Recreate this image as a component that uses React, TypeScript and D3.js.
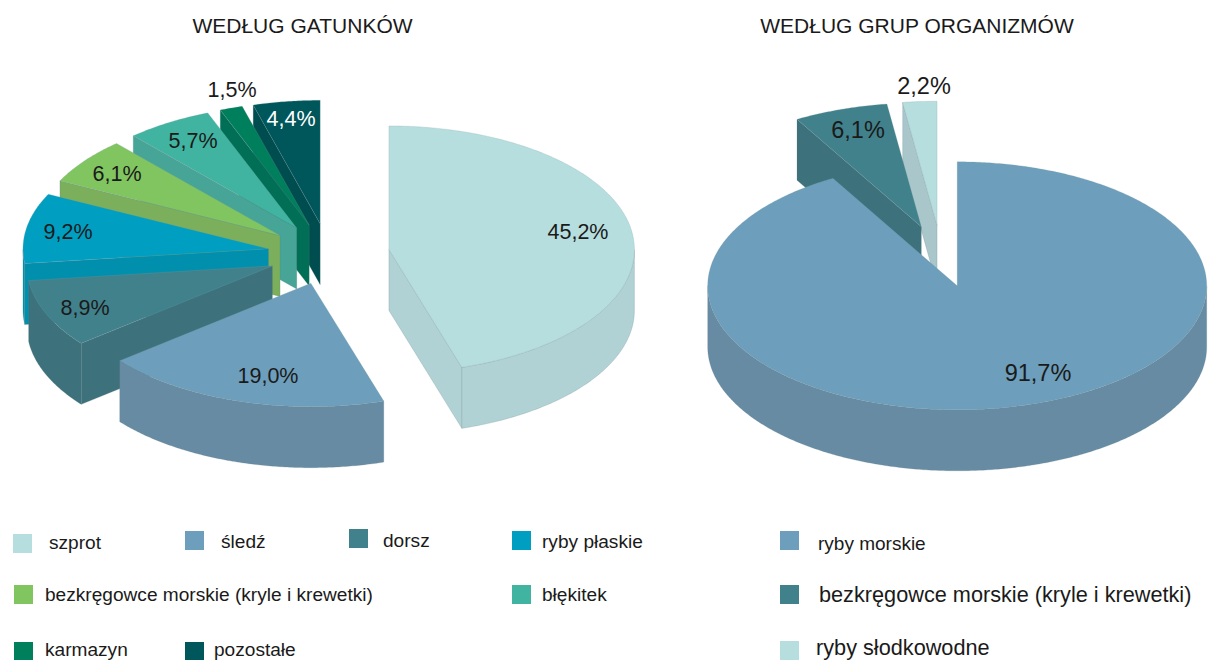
import React from "react";
import * as d3 from "d3";

const FONT = "'Liberation Sans', Arial, sans-serif";

const speciesNames = ["szprot", "śledź", "dorsz", "ryby płaskie", "bezkręgowce morskie (kryle i krewetki)", "błękitek", "karmazyn", "pozostałe"];
const speciesValues = [45.2, 19.0, 8.9, 9.2, 6.1, 5.7, 1.5, 4.4];
const speciesTop = ["#B6DEDE", "#6D9EBB", "#41818B", "#009FC2", "#81C561", "#41B4A1", "#007F5D", "#00575B"];
const speciesWall = ["#B1D2D4", "#668BA3", "#3D717C", "#0090AD", "#7BAF5B", "#46A596", "#006F55", "#004D50"];
const speciesLabelColor = ["#1a1a1a", "#1a1a1a", "#1a1a1a", "#1a1a1a", "#1a1a1a", "#1a1a1a", "#1a1a1a", "#ffffff"];
const speciesLabelAt = [[578, 232], [268, 376], [85, 308], [68, 232], [117, 174], [193, 141], [232, 90], [291, 119]];
const speciesLegend = [[13, 534, 49, 549], [185, 531, 221, 548], [349, 529, 383, 547], [512, 531, 542, 548], [14, 585, 45, 601], [512, 585, 542, 601], [14, 642, 45, 656], [185, 642, 214, 656]];
const speciesLegendSizes = [19.1, 19.1, 19.1, 19.1, 19.1, 19.1, 19.1, 19.1];

const groupNames = ["ryby morskie", "bezkręgowce morskie (kryle i krewetki)", "ryby słodkowodne"];
const groupValues = [91.7, 6.1, 2.2];
const groupTop = ["#6D9EBB", "#41818B", "#B6DEDE"];
const groupWall = ["#668BA3", "#3D717C", "#A9C6CB"];
const groupLabelColor = ["#1a1a1a", "#1a1a1a", "#1a1a1a"];
const groupLabelAt = [[1038, 373], [858, 130], [924, 86]];
const groupLegend = [[780, 531, 818, 550], [780, 585, 819, 602], [780, 641, 816, 655]];
const groupLegendSizes = [19, 21.7, 21.7];

const TAU = Math.PI * 2;

type PieSpec = {
  values: number[]; top: string[]; wall: string[]; labelColor: string[]; labelAt: number[][];
  cx: number; cy: number; rx: number; ry: number; depth: number; explode: number; labelSize: number;
};

const line = d3.line<[number, number]>();

function Pie3D({ values, top, wall, labelColor, labelAt, cx, cy, rx, ry, depth, explode, labelSize }: PieSpec) {
  const arcs = d3.pie<number>().sort(null).startAngle(0).endAngle(TAU)(values);
  const pts = (x: number, y: number, a0: number, a1: number): [number, number][] => {
    const n = Math.max(2, Math.ceil(Math.abs(a1 - a0) / 0.01));
    return d3.range(n + 1).map((i) => {
      const a = a0 + ((a1 - a0) * i) / n;
      return [x + rx * Math.sin(a), y - ry * Math.cos(a)] as [number, number];
    });
  };
  const slices = arcs.map((d, i) => {
    const mid = (d.startAngle + d.endAngle) / 2;
    const x = cx + explode * Math.sin(mid);
    const y = cy - explode * 0.5 * Math.cos(mid);
    const rim = pts(x, y, d.startAngle, d.endAngle);
    const topPath = line([[x, y], ...rim]) + "Z";
    const walls: string[] = [];
    const radial = (a: number) => {
      const [p] = pts(x, y, a, a);
      return line([[x, y], p, [p[0], p[1] + depth], [x, y + depth]]) + "Z";
    };
    if (d.startAngle > Math.PI) walls.push(radial(d.startAngle));
    if (d.endAngle < Math.PI) walls.push(radial(d.endAngle));
    const lo = Math.max(d.startAngle, Math.PI / 2);
    const hi = Math.min(d.endAngle, (3 * Math.PI) / 2);
    if (hi > lo) {
      const r = pts(x, y, lo, hi);
      const low = r.map(([a, b]) => [a, b + depth] as [number, number]).reverse();
      walls.push(line([...r, ...low]) + "Z");
    }
    return { i, topPath, walls };
  });
  const order = slices.slice().reverse();
  return (
    <g>
      {order.map((s) => (
        <g key={s.i}>
          {s.walls.map((w, k) => (
            <path key={k} d={w} fill={wall[s.i]} stroke="#5f7f85" strokeOpacity={0.45} strokeWidth={0.5} />
          ))}
          <path d={s.topPath} fill={top[s.i]} stroke="#7f9ba0" strokeOpacity={0.45} strokeWidth={0.5} />
        </g>
      ))}
      {values.map((v, i) => (
        <text key={i} x={labelAt[i][0]} y={labelAt[i][1]} textAnchor="middle" dominantBaseline="central" fontSize={labelSize} fill={labelColor[i]}>
          {d3.format(".1f")(v).replace(".", ",")}%
        </text>
      ))}
    </g>
  );
}

function Legend({ names, colors, at, size, fontSizes }: { names: string[]; colors: string[]; at: number[][]; size: number; fontSizes: number[] }) {
  return (
    <g>
      {names.map((n, i) => (
        <g key={n}>
          <rect x={at[i][0]} y={at[i][1]} width={size} height={size} fill={colors[i]} />
          <text x={at[i][2]} y={at[i][3]} fontSize={fontSizes[i]} fill="#1a1a1a">{n}</text>
        </g>
      ))}
    </g>
  );
}

export default function App() {
  return (
    <svg width={1208} height={660} viewBox="0 0 1208 660" style={{ position: "absolute", left: 0, top: 0, background: "#fff" }} fontFamily={FONT}>
      <text x={302.5} y={33} textAnchor="middle" fontSize={21} fill="#1a1a1a">WEDŁUG GATUNKÓW</text>
      <text x={917} y={33} textAnchor="middle" fontSize={21} fill="#1a1a1a">WEDŁUG GRUP ORGANIZMÓW</text>
      <Pie3D values={speciesValues} top={speciesTop} wall={speciesWall} labelColor={speciesLabelColor} labelAt={speciesLabelAt}
        cx={328.6} cy={254} rx={245.5} ry={123.5} depth={61} explode={61} labelSize={21.5} />
      <Pie3D values={groupValues} top={groupTop} wall={groupWall} labelColor={groupLabelColor} labelAt={groupLabelAt}
        cx={941.3} cy={256} rx={249.5} ry={124} depth={61} explode={61.7} labelSize={23.5} />
      <Legend names={speciesNames} colors={speciesTop} at={speciesLegend} size={19} fontSizes={speciesLegendSizes} />
      <Legend names={groupNames} colors={groupTop} at={groupLegend} size={19} fontSizes={groupLegendSizes} />
    </svg>
  );
}
